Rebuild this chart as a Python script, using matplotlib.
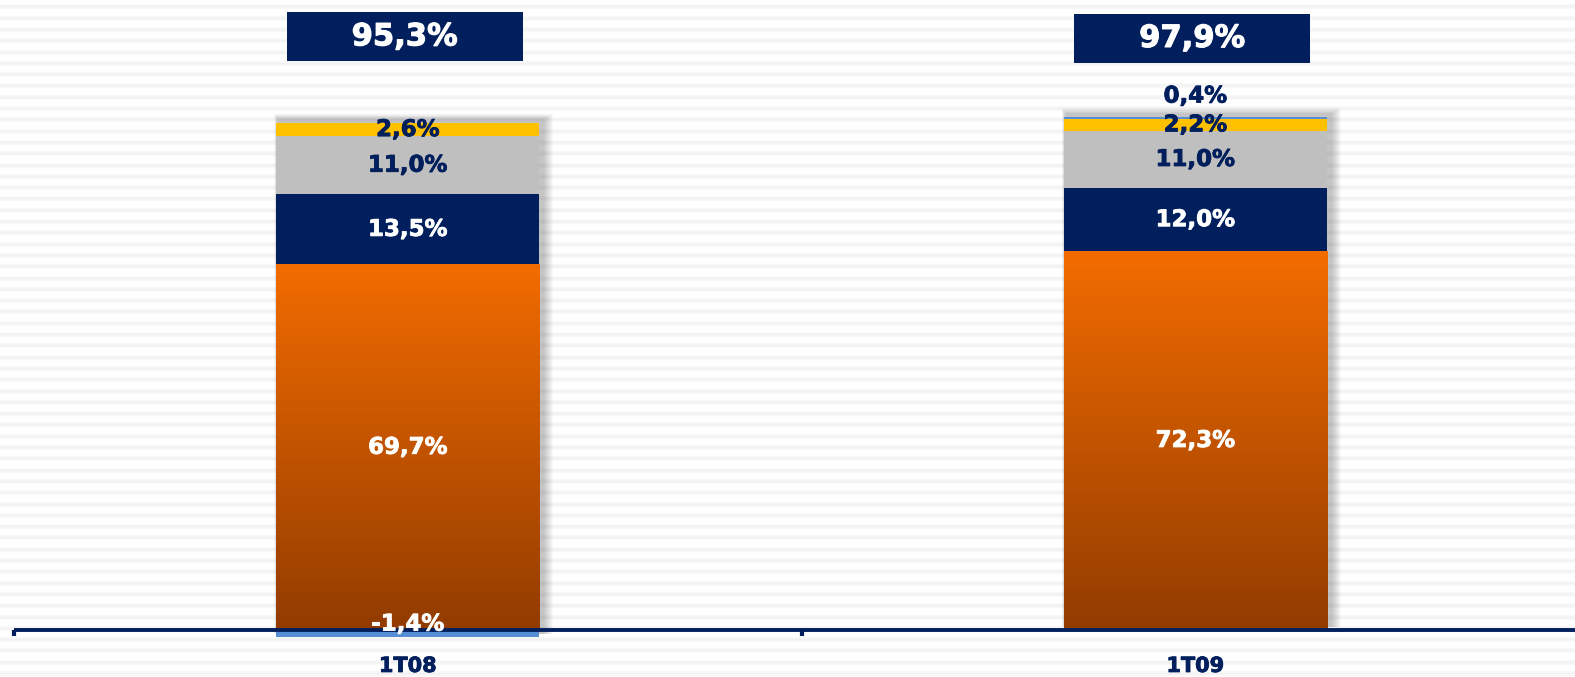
import numpy as np
import matplotlib
matplotlib.use("Agg")
import matplotlib.pyplot as plt
import matplotlib.patheffects as pe
from matplotlib.patches import Rectangle
from matplotlib.colors import to_rgb

categories = ['1T08', '1T09']
orange_vals = [69.7, 72.3]
navy_vals = [13.5, 12.0]
gray_vals = [11.0, 11.0]
yellow_vals = [2.6, 2.2]
blue_vals = [-1.4, 0.4]
totals = ['95,3%', '97,9%']

NAVY = '#001F5C'
GRAY = '#BFBFBF'
YELLOW = '#FFC000'
LBLUE = '#558ED5'
OR_TOP = '#F36C00'
OR_BOT = '#923B00'

XLIM = (-0.5178, 1.482)
YLIM = (-9.01, 120.24)

fig = plt.figure(figsize=(15.75, 6.77), dpi=100)

# striped background
bg = fig.add_axes([0, 0, 1, 1])
bg.set_xlim(0, 1)
bg.set_ylim(0, 677)
bg.axis('off')
for yy in np.arange(4, 677, 11.3):
    bg.axhline(yy, color='#F8F8F8', lw=3.5, zorder=0)
    bg.axhline(yy, color='#F1F1F1', lw=1.0, zorder=0)

ax = fig.add_axes([0, 0, 1, 1])
ax.patch.set_alpha(0)
ax.set_xlim(*XLIM)
ax.set_ylim(*YLIM)
ax.axis('off')

x = np.arange(len(categories))
w = 0.334
px = 1 / 787.6   # one pixel in x data units
py = 1 / 5.238   # one pixel in y data units

# soft drop shadows
for i in range(len(categories)):
    bottom = min(0, blue_vals[i])
    top = orange_vals[i] + navy_vals[i] + gray_vals[i] + yellow_vals[i] + max(0, blue_vals[i])
    for k in range(1, 11):
        x0 = x[i] - w / 2 + (2 - 0.4 * k) * px
        ax.add_patch(Rectangle((x0, bottom + 3 * py),
                               w + (2 + 1.4 * k) * px, top - bottom + (0.6 * k) * py,
                               color='black', alpha=0.022, lw=0, zorder=1))

# stacked bars
ob = ax.bar(x, orange_vals, w, color=OR_TOP, zorder=2)
base = np.array(orange_vals)
ax.bar(x, navy_vals, w, bottom=base, color=NAVY, zorder=2)
base = base + np.array(navy_vals)
ax.bar(x, gray_vals, w, bottom=base, color=GRAY, zorder=2)
base = base + np.array(gray_vals)
ax.bar(x, yellow_vals, w, bottom=base, color=YELLOW, zorder=2)
base = base + np.array(yellow_vals)
blue_bottom = [base[i] if blue_vals[i] > 0 else 0 for i in range(len(x))]
ax.bar(x, blue_vals, w, bottom=blue_bottom, color=LBLUE, zorder=2)

# gradient on the orange segment
grad = np.linspace(0, 1, 256)[:, None, None]
c0 = np.array(to_rgb(OR_BOT))
c1 = np.array(to_rgb(OR_TOP))
img = c0 + (c1 - c0) * grad
for p in ob:
    x0, y0 = p.get_x(), p.get_y()
    ax.imshow(img, extent=[x0, x0 + p.get_width(), y0, y0 + p.get_height()],
              origin='lower', aspect='auto', zorder=2.5)
ax.set_xlim(*XLIM)
ax.set_ylim(*YLIM)

# baseline and ticks
ax.plot([-0.5, XLIM[1]], [0, 0], color=NAVY, lw=2.8, zorder=4, solid_capstyle='butt')
for t in [-0.5, 0.5, 1.5]:
    ax.plot([t, t], [0, -6 * py], color=NAVY, lw=3, zorder=4, solid_capstyle='butt')

def bold(c, lw=0.6):
    # slightly heavier strokes, closer to the original's Verdana bold
    return [pe.withStroke(linewidth=lw, foreground=c)]

# segment labels
fs = 16.5
fmt = lambda v: ('%.1f%%' % v).replace('.', ',')
for i in range(len(x)):
    o, n, g, yv, b = orange_vals[i], navy_vals[i], gray_vals[i], yellow_vals[i], blue_vals[i]
    ax.text(x[i], o / 2, fmt(o), ha='center', va='center', color='white',
            fontsize=fs, fontweight='bold', zorder=5, path_effects=bold('white'))
    ax.text(x[i], o + n / 2, fmt(n), ha='center', va='center', color='white',
            fontsize=fs, fontweight='bold', zorder=5, path_effects=bold('white'))
    ax.text(x[i], o + n + g / 2, fmt(g), ha='center', va='center', color=NAVY,
            fontsize=fs, fontweight='bold', zorder=5, path_effects=bold(NAVY))
    ax.text(x[i], o + n + g + yv / 2, fmt(yv), ha='center', va='center', color=NAVY,
            fontsize=fs, fontweight='bold', zorder=5, path_effects=bold(NAVY))
    if b < 0:
        ax.text(x[i], 1.1, fmt(b), ha='center', va='center', color='white',
                fontsize=fs, fontweight='bold', zorder=5, path_effects=bold('white'))
    else:
        ax.text(x[i], o + n + g + yv + b + 4.0, fmt(b), ha='center', va='center',
                color=NAVY, fontsize=fs, fontweight='bold', zorder=5,
                path_effects=bold(NAVY))
    # category label
    ax.text(x[i], -6.9, categories[i], ha='center', va='center', color=NAVY,
            fontsize=15, fontweight='bold', zorder=5, path_effects=bold(NAVY))

# total boxes
box_y = [113.2, 112.9]
for i in range(len(x)):
    bw, bh = 236 * px, 49 * py
    ax.add_patch(Rectangle((x[i] - 0.004 - bw / 2, box_y[i] - bh / 2), bw, bh,
                           color=NAVY, lw=0, zorder=5))
    ax.text(x[i] - 0.004, box_y[i], totals[i], ha='center', va='center', color='white',
            fontsize=22, fontweight='bold', zorder=6, path_effects=bold('white', 0.8))

fig.savefig('out.png', dpi=100)
